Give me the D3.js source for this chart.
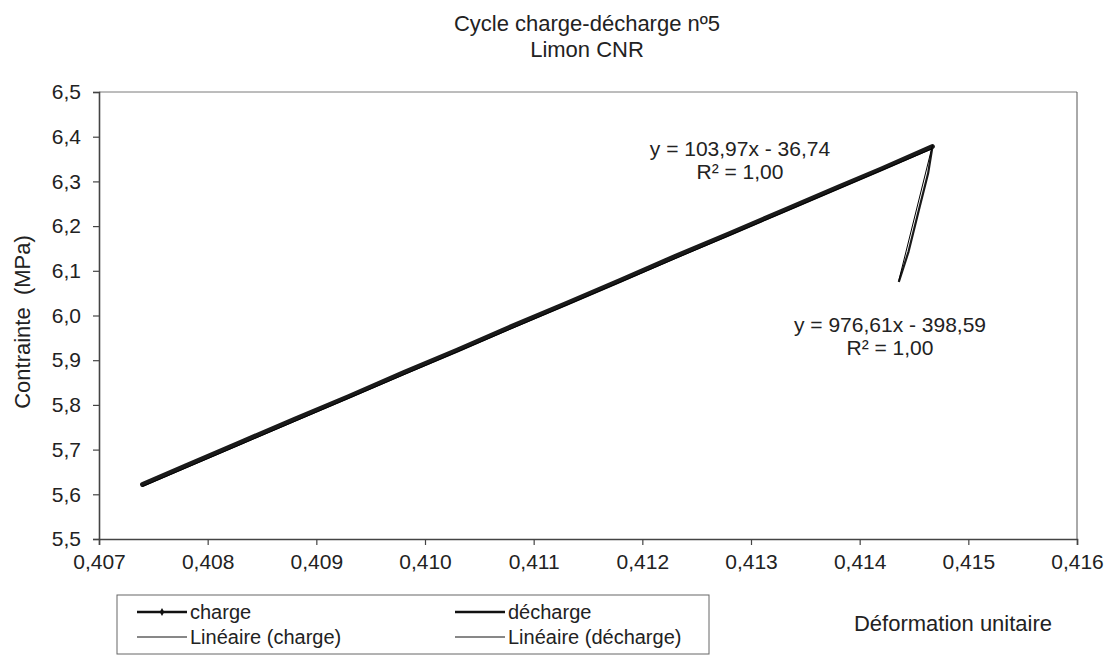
<!DOCTYPE html>
<html>
<head>
<meta charset="utf-8">
<script src="https://cdn.jsdelivr.net/npm/d3@7"></script>
<style>
  html, body { margin: 0; padding: 0; background: #fff; }
  svg { display: block; font-family: "Liberation Sans", Arial, sans-serif; }
  text { white-space: pre; }
</style>
</head>
<body>
<svg id="chart" width="1112" height="655"></svg>
<script>
// Loading branch (charge): strain / stress samples
const chargeStrain = [0.40740, 0.40780, 0.40830, 0.40880, 0.40930, 0.40980, 0.41030, 0.41080,
                      0.41130, 0.41180, 0.41230, 0.41280, 0.41330, 0.41380, 0.41420, 0.41467];
const chargeStress = [5.622, 5.664, 5.716, 5.768, 5.819, 5.872, 5.923, 5.976,
                      6.027, 6.079, 6.132, 6.183, 6.235, 6.287, 6.328, 6.378];

// Unloading branch (décharge)
const dechargeStrain = [0.41467, 0.41463, 0.41455, 0.41445, 0.41436];
const dechargeStress = [6.378, 6.318, 6.241, 6.143, 6.075];

// Linear fits shown on the chart
const fitCharge   = { slope: 103.97, intercept: -36.74 };
const fitDecharge = { slope: 976.61, intercept: -398.59 };
const fitLabels = [
  ["y = 103,97x - 36,74", "R² = 1,00"],
  ["y = 976,61x - 398,59", "R² = 1,00"]
];

const xTicks = [0.407, 0.408, 0.409, 0.410, 0.411, 0.412, 0.413, 0.414, 0.415, 0.416];
const yTicks = [5.5, 5.6, 5.7, 5.8, 5.9, 6.0, 6.1, 6.2, 6.3, 6.4, 6.5];

const titleLines = ["Cycle charge-décharge nº5", "Limon CNR"];
const xTitle = "Déformation unitaire";
const yTitle = "Contrainte  (MPa)";
const legendItems = ["charge", "décharge", "Linéaire (charge)", "Linéaire (décharge)"];

const svg = d3.select("#chart");
const plot = { left: 99, right: 1077, top: 92, bottom: 539 };
const FONT = "'Liberation Sans', Arial, sans-serif";

const x = d3.scaleLinear().domain([0.407, 0.416]).range([plot.left, plot.right]);
const y = d3.scaleLinear().domain([5.5, 6.5]).range([plot.bottom, plot.top]);

const comma = (f) => (v) => d3.format(f)(v).replace(".", ",");

// plot frame: light top/right borders
svg.append("line").attr("x1", plot.left).attr("x2", plot.right)
  .attr("y1", plot.top).attr("y2", plot.top).attr("stroke", "#7a7a7a").attr("stroke-width", 1);
svg.append("line").attr("x1", plot.right).attr("x2", plot.right)
  .attr("y1", plot.top).attr("y2", plot.bottom).attr("stroke", "#555").attr("stroke-width", 1);

// axes
const yAxis = svg.append("g").attr("transform", `translate(${plot.left},0)`)
  .call(d3.axisLeft(y).tickValues(yTicks).tickFormat(comma(".1f")).tickSize(6).tickPadding(12));
const xAxis = svg.append("g").attr("transform", `translate(0,${plot.bottom})`)
  .call(d3.axisBottom(x).tickValues(xTicks).tickFormat(comma(".3f")).tickSize(6).tickPadding(9));

[yAxis, xAxis].forEach(g => {
  g.select(".domain").attr("stroke", "#444").attr("stroke-width", 1.6);
  g.selectAll(".tick line").attr("stroke", "#444").attr("stroke-width", 1.2);
  g.selectAll(".tick text").attr("fill", "#222").style("font-size", "21px")
    .style("font-family", FONT);
});

const line = d3.line().x(d => x(d[0])).y(d => y(d[1]));

// measured branches
const chargePts = chargeStrain.map((s, i) => [s, chargeStress[i]]);
const dechargePts = dechargeStrain.map((s, i) => [s, dechargeStress[i]]);

// trend lines over each branch's strain range
const fitLine = (fit, xs) => d3.extent(xs).map(v => [v, fit.slope * v + fit.intercept]);

svg.append("path").datum(chargePts).attr("d", line)
  .attr("fill", "none").attr("stroke", "#1a1a1a").attr("stroke-width", 4.8)
  .attr("stroke-linejoin", "round").attr("stroke-linecap", "round");
svg.append("path").datum(dechargePts).attr("d", line)
  .attr("fill", "none").attr("stroke", "#1a1a1a").attr("stroke-width", 2.2)
  .attr("stroke-linejoin", "round");
svg.append("path").datum(fitLine(fitCharge, chargeStrain)).attr("d", line)
  .attr("fill", "none").attr("stroke", "#000").attr("stroke-width", 1);
svg.append("path").datum(fitLine(fitDecharge, dechargeStrain)).attr("d", line)
  .attr("fill", "none").attr("stroke", "#000").attr("stroke-width", 1);

// fit equations
const eqPos = [[740, 156], [890, 332]];
fitLabels.forEach((lines, i) => {
  const t = svg.append("text").attr("text-anchor", "middle")
    .attr("x", eqPos[i][0]).attr("y", eqPos[i][1])
    .style("font-size", "21px").attr("fill", "#222");
  lines.forEach((l, j) => t.append("tspan").attr("x", eqPos[i][0]).attr("dy", j ? 23 : 0).text(l));
});

// titles
const title = svg.append("text").attr("text-anchor", "middle").attr("fill", "#222")
  .style("font-size", "22px");
titleLines.forEach((l, j) => title.append("tspan").attr("x", 587).attr("y", 31 + j * 26).text(l));

svg.append("text").attr("text-anchor", "middle").attr("fill", "#222")
  .style("font-size", "22px").attr("x", 953).attr("y", 631).text(xTitle);

svg.append("text").attr("text-anchor", "middle").attr("fill", "#222")
  .style("font-size", "22px")
  .attr("transform", `translate(30,322) rotate(-90)`)
  .text(yTitle);

// legend
const lg = { x: 117, y: 595, w: 592, h: 59 };
svg.append("rect").attr("x", lg.x).attr("y", lg.y).attr("width", lg.w).attr("height", lg.h)
  .attr("fill", "#fff").attr("stroke", "#666").attr("stroke-width", 1);
const colX = [lg.x + 20, lg.x + 338];
const rowY = [lg.y + 17, lg.y + 42];
legendItems.forEach((name, i) => {
  const cx = colX[i % 2], cy = rowY[Math.floor(i / 2)];
  const g = svg.append("g");
  const thick = i < 2;
  g.append("line").attr("x1", cx).attr("x2", cx + 50).attr("y1", cy).attr("y2", cy)
    .attr("stroke", "#111").attr("stroke-width", thick ? 2.4 : 1);
  if (i === 0) {
    g.append("path").attr("d", d3.symbol(d3.symbolDiamond, 18)())
      .attr("transform", `translate(${cx + 25},${cy})`).attr("fill", "#111");
  }
  g.append("text").attr("x", cx + 53).attr("y", cy + 7).style("font-size", "20px")
    .attr("fill", "#222").text(name);
});
</script>
</body>
</html>
